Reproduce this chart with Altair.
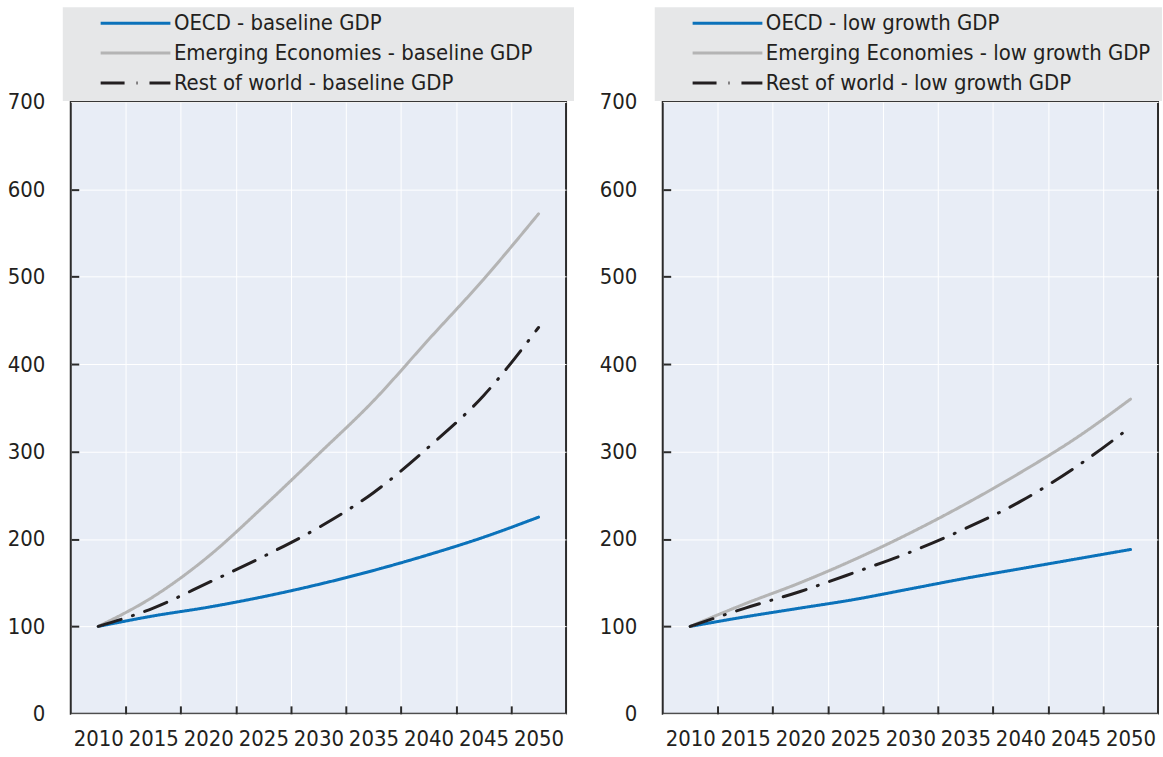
import altair as alt
import pandas as pd

# Years shown on the horizontal axis (series are indexed to 2010 = 100)
years = [2010, 2015, 2020, 2025, 2030, 2035, 2040, 2045, 2050]
# Boundaries between the 5-year groups: tick marks and vertical grid lines
band_edges = [2012.5, 2017.5, 2022.5, 2027.5, 2032.5, 2037.5, 2042.5, 2047.5]
y_ticks = [0, 100, 200, 300, 400, 500, 600, 700]

baseline_names = [
    "OECD - baseline GDP",
    "Emerging Economies - baseline GDP",
    "Rest of world - baseline GDP",
]
low_names = [
    "OECD - low growth GDP",
    "Emerging Economies - low growth GDP",
    "Rest of world - low growth GDP",
]

oecd_baseline = [100, 112, 122, 134, 148, 164, 182, 202, 225]
emerging_baseline = [100, 134, 180, 237, 297, 358, 428, 497, 572]
row_baseline = [100, 121, 150, 180, 213, 253, 305, 364, 442]

oecd_low = [100, 111, 121, 131, 143, 155, 166, 177, 188]
emerging_low = [100, 126, 150, 177, 207, 240, 276, 315, 360]
row_low = [100, 121, 140, 162, 185, 212, 243, 282, 328]

line_colors = ["#0B72BA", "#B4B4B4", "#231F20"]
line_dashes = [[1, 0], [1, 0], [24, 12, 1, 12]]
line_widths = [3, 3, 4]

FONT = "DejaVu Sans Condensed, sans-serif"
FONT_SIZE = 22
TEXT = "#231F20"
PLOT_W, PLOT_H = 497, 614


def make_panel(names, oecd, emerging, rest, box_right):
    rows = []
    for name, series in zip(names, [oecd, emerging, rest]):
        for yr, v in zip(years, series):
            rows.append({"year": yr, "value": v, "series": name})
    df = pd.DataFrame(rows)

    tick_vals = sorted(years + band_edges)

    x_axis = alt.Axis(
        values=tick_vals,
        format="d",
        labelExpr="datum.value % 5 == 0 ? datum.label : ''",
        labelOverlap=False,
        labelFlush=False,
        tickOpacity={"condition": {"test": "datum.value % 5 == 0", "value": 0}, "value": 1},
        gridOpacity={"condition": {"test": "datum.value % 5 == 0", "value": 0}, "value": 1},
        offset=-8,
        tickSize=8,
        labelPadding=15,
        domain=False,
        title=None,
    )
    y_axis = alt.Axis(
        values=y_ticks,
        tickOpacity={"condition": {"test": "datum.value == 0 || datum.value == 700", "value": 0}, "value": 1},
        offset=-8,
        tickSize=8,
        labelPadding=26,
        domain=False,
        title=None,
    )

    legend = alt.Legend(
        orient="none",
        legendX=53.5,
        legendY=-90.5,
        title=None,
        symbolType="M-3.5,0H3.5",
        symbolSize=400,
        symbolStrokeWidth=3,
        labelOffset=27,
        labelFont=FONT,
        labelFontSize=FONT_SIZE,
        labelColor=TEXT,
        labelLimit=440,
        rowPadding=7,
        padding=0,
    )

    # grey band behind the legend, above the plot area
    box = (
        alt.Chart(pd.DataFrame({"k": [0]}))
        .mark_rect(color="#E6E7E8")
        .encode(x=alt.value(-8), x2=alt.value(box_right), y=alt.value(-95), y2=alt.value(-1))
    )

    lines = (
        alt.Chart(df)
        .mark_line(interpolate="monotone", strokeCap="round", strokeJoin="round")
        .encode(
            x=alt.X("year:Q", scale=alt.Scale(domain=[2007.5, 2052.5], nice=False, zero=False), axis=x_axis),
            y=alt.Y("value:Q", scale=alt.Scale(domain=[0, 700], nice=False), axis=y_axis),
            color=alt.Color("series:N", scale=alt.Scale(domain=names, range=line_colors), legend=legend),
            strokeDash=alt.StrokeDash("series:N", scale=alt.Scale(domain=names, range=line_dashes), legend=legend),
            strokeWidth=alt.StrokeWidth("series:N", scale=alt.Scale(domain=names, range=line_widths), legend=None),
            order=alt.Order("year:Q"),
        )
    )
    return alt.layer(box, lines).properties(width=PLOT_W, height=PLOT_H)


left = make_panel(baseline_names, oecd_baseline, emerging_baseline, row_baseline, 505)
right = make_panel(low_names, oecd_low, emerging_low, row_low, 501)

chart = (
    alt.hconcat(left, right, spacing=23)
    .resolve_scale(color="independent", strokeDash="independent", strokeWidth="independent")
    .properties(padding={"left": 6, "top": 5, "right": 0, "bottom": 0}, background="white")
    .configure_view(fill="#E8EDF6", stroke="#2B2B2B", strokeWidth=2)
    .configure_axis(
        labelFont=FONT,
        labelFontSize=FONT_SIZE,
        labelColor=TEXT,
        tickColor="#2B2B2B",
        tickWidth=2,
        gridColor="white",
        gridWidth=1,
    )
)

chart.save("out.html", embed_options={"renderer": "svg", "actions": False})
